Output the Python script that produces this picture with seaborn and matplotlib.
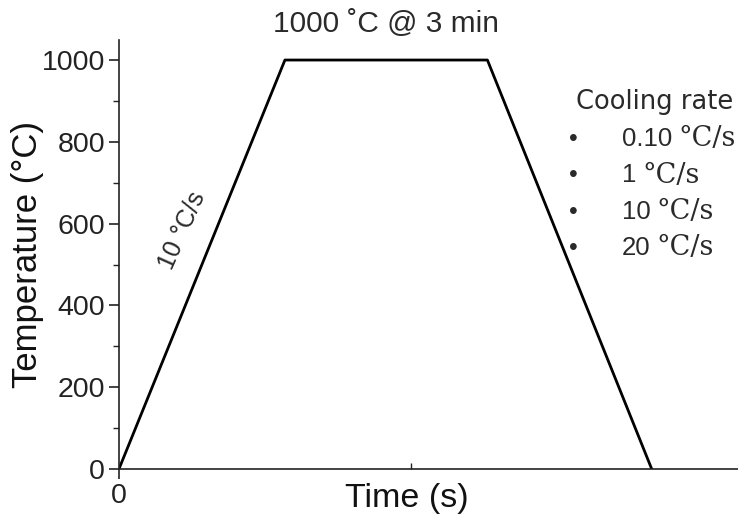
import numpy as np
import pandas as pd
import matplotlib
matplotlib.use("Agg")
import matplotlib.pyplot as plt
import seaborn as sns
from matplotlib.ticker import MultipleLocator, FixedLocator

# schematic heat-treatment profile (time axis is not to scale)
time_s = [0, 100, 222, 321]
temp_c = [0, 1000, 1000, 0]
y_ticks = [0, 200, 400, 600, 800, 1000]
rate_nums = ["0.10", "1", "10", "20"]

sns.set_style("ticks")
plt.rcParams['font.family'] = ['Liberation Sans', 'DejaVu Sans']

df = pd.DataFrame({"Time (s)": time_s, "Temperature (°C)": temp_c})

fig = plt.figure(figsize=(7.38, 5.16), dpi=100)
ax = fig.add_axes([0.1612, 0.0911, 0.8388, 0.8314])
sns.lineplot(data=df, x="Time (s)", y="Temperature (°C)", ax=ax,
             color="black", linewidth=2.0, sort=False)

ax.set_xlim(0, 373)
ax.set_ylim(0, 1049)
sns.despine(ax=ax)
for s in ["left", "bottom"]:
    ax.spines[s].set_linewidth(1.2)
    ax.spines[s].set_color("#222222")

ax.set_yticks(y_ticks)
ax.yaxis.set_minor_locator(MultipleLocator(100))
ax.set_xticks([0])
ax.set_xticklabels(["0"])
ax.xaxis.set_minor_locator(FixedLocator([176]))
ax.tick_params(axis="both", which="major", labelsize=20.5, colors="#222222",
               direction="out", length=7, width=1.2, pad=3)
ax.tick_params(axis="y", which="minor", direction="out", length=4, width=1.0, colors="#222222")
ax.tick_params(axis="x", which="minor", direction="in", length=4, width=1.0, colors="#222222")
ax.set_xlabel("Time (s)", fontsize=24.5, color="#111111", va="center")
ax.xaxis.set_label_coords(0.465, -0.068)
ax.set_ylabel("Temperature (°C)", fontsize=25, color="#111111", va="center")
ax.yaxis.set_label_coords(-0.148, 0.5)

txt = "#2a2a2a"
ax.text(0.5 * (time_s[1] + time_s[2]), 1087, "1000 ˚C @ 3 min", ha="center", va="center",
        fontsize=21.5, color=txt)
ax.text(38, 584, "10 °C/s", rotation=66, ha="center", va="center",
        fontsize=18, color=txt, rotation_mode="anchor")

# cooling-rate list on the right
fig.text(0.780, 0.802, "Cooling rate", fontsize=18.5, color=txt,
         family="DejaVu Sans", va="center")
for i, n in enumerate(rate_nums):
    y = 0.731 - i * 0.0705
    fig.text(0.777, y, "•", fontsize=18, color=txt, va="center", ha="center")
    t = fig.text(0.843, y, n, fontsize=18.5, color=txt, va="center")
    ax.annotate("°C/s", xy=(1, 0.5), xycoords=t, xytext=(4, 0), textcoords="offset points",
                va="center", fontsize=19.5, color=txt, family="DejaVu Serif",
                annotation_clip=False)

fig.savefig("out.png", dpi=100)
